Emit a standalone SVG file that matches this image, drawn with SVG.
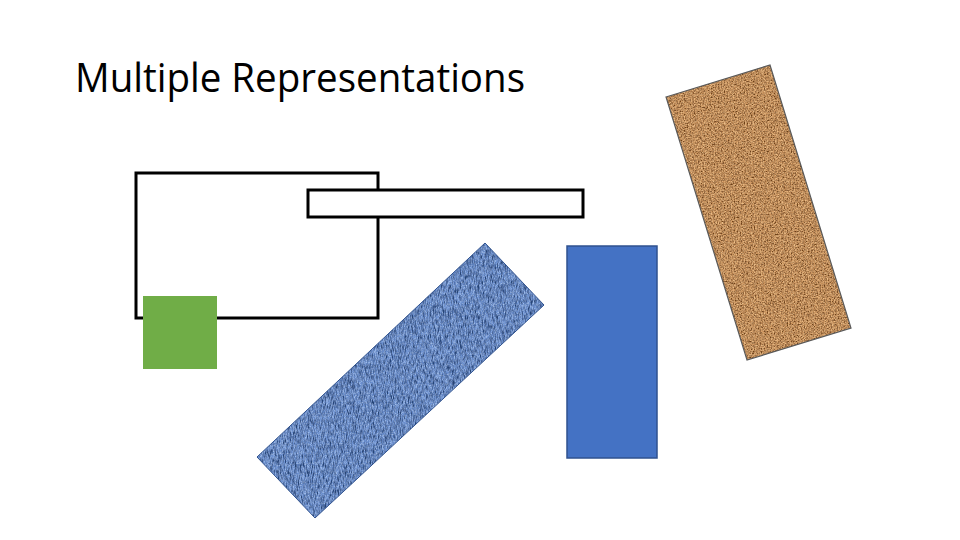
<svg xmlns="http://www.w3.org/2000/svg" width="960" height="540" viewBox="0 0 960 540">
<defs>
<style>
.outline{fill:#ffffff;stroke:#000000;stroke-width:3}
.title{font-family:"Open Sans","Liberation Sans",sans-serif;font-size:40px;fill:#000000}
</style>
<filter id="cork" x="0" y="0" width="100%" height="100%">
<feTurbulence type="fractalNoise" baseFrequency="0.7" numOctaves="3" seed="4" result="n"/>
<feColorMatrix in="n" type="matrix" values="0 0 0 0 0  0 0 0 0 0  0 0 0 0 0  2.2 0 0 0 -0.75" result="a"/>
<feFlood flood-color="#6e4018" result="dark"/>
<feComposite in="dark" in2="a" operator="in" result="spots"/>
<feTurbulence type="fractalNoise" baseFrequency="0.9" numOctaves="2" seed="11" result="n2"/>
<feColorMatrix in="n2" type="matrix" values="0 0 0 0 0  0 0 0 0 0  0 0 0 0 0  0 2.2 0 0 -0.8" result="a2"/>
<feFlood flood-color="#f0c48e" result="light"/>
<feComposite in="light" in2="a2" operator="in" result="lspots"/>
<feMerge result="m"><feMergeNode in="SourceGraphic"/><feMergeNode in="lspots"/><feMergeNode in="spots"/></feMerge>
<feComposite in="m" in2="SourceGraphic" operator="in"/>
</filter>
<filter id="denim" x="0" y="0" width="100%" height="100%">
<feTurbulence type="fractalNoise" baseFrequency="1.4 0.2" numOctaves="2" seed="7" result="n"/>
<feColorMatrix in="n" type="matrix" values="0 0 0 0 0  0 0 0 0 0  0 0 0 0 0  2.4 0 0 0 -0.85" result="a"/>
<feFlood flood-color="#264477" result="dark"/>
<feComposite in="dark" in2="a" operator="in" result="spots"/>
<feTurbulence type="fractalNoise" baseFrequency="1.1" numOctaves="2" seed="3" result="n2"/>
<feColorMatrix in="n2" type="matrix" values="0 0 0 0 0  0 0 0 0 0  0 0 0 0 0  0 2 0 0 -0.75" result="a2"/>
<feFlood flood-color="#a8c4ee" result="light"/>
<feComposite in="light" in2="a2" operator="in" result="lspots"/>
<feMerge result="m"><feMergeNode in="SourceGraphic"/><feMergeNode in="lspots"/><feMergeNode in="spots"/></feMerge>
<feComposite in="m" in2="SourceGraphic" operator="in"/>
</filter>
</defs>
<rect width="960" height="540" fill="#ffffff"/>
<text class="title" x="75" y="92" textLength="450" lengthAdjust="spacingAndGlyphs">Multiple Representations</text>
<g id="frame-large"><rect class="outline" x="136" y="173" width="242" height="145"/></g>
<g id="frame-thin"><rect class="outline" x="308" y="190" width="275" height="27"/></g>
<g id="green-square"><rect x="143" y="296" width="74" height="73" fill="#70AD47"/></g>
<g id="denim-bar">
<polygon points="485,243 544,305 315,518 257,457" fill="#6a8fcf" filter="url(#denim)"/>
<polygon points="485,243 544,305 315,518 257,457" fill="none" stroke="#2F528F" stroke-width="1"/>
</g>
<g id="blue-bar"><rect x="567" y="246" width="90" height="212" fill="#4472C4" stroke="#2F528F" stroke-width="1.5"/></g>
<g id="cork-bar">
<polygon points="666,97 770,65 851,328 747,360" fill="#cf9760" filter="url(#cork)"/>
<polygon points="666,97 770,65 851,328 747,360" fill="none" stroke="#595959" stroke-width="1.2"/>
</g>
<g id="connectors"/>
</svg>
